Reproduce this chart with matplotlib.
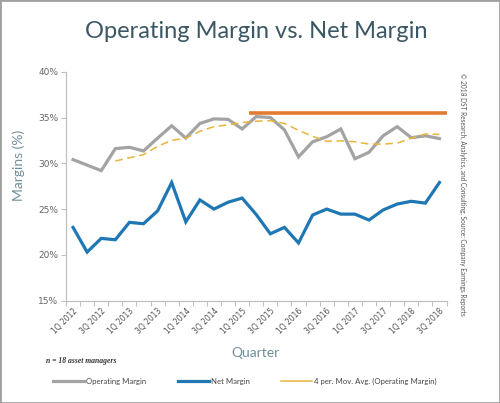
import numpy as np
import matplotlib
matplotlib.use("Agg")
import matplotlib.pyplot as plt
from matplotlib.lines import Line2D
from matplotlib.patches import Rectangle

# quarters 1Q 2012 .. 3Q 2018
quarters = [f"{q}Q {y}" for y in range(2012, 2019) for q in range(1, 5)][:27]

operating_margin = [30.4, 29.8, 29.2, 31.6, 31.75, 31.35, 32.75, 34.1, 32.75, 34.35,
                    34.85, 34.8, 33.75, 35.1, 35.0, 33.65, 30.7, 32.35, 32.9, 33.75,
                    30.5, 31.2, 33.0, 34.0, 32.8, 33.0, 32.7]
net_margin = [23.0, 20.3, 21.8, 21.65, 23.55, 23.4, 24.8, 27.9, 23.6, 26.0,
              25.0, 25.75, 26.2, 24.4, 22.3, 23.0, 21.3, 24.35, 25.0, 24.45,
              24.45, 23.8, 24.9, 25.55, 25.85, 25.65, 27.9]
# 4-period moving average of operating margin (starts at 4Q 2012)
mov_avg = [30.25, 30.6, 30.95, 31.85, 32.5, 32.75, 33.5, 34.0, 34.2, 34.45,
           34.6, 34.65, 34.35, 33.6, 32.95, 32.4, 32.45, 32.35, 32.1, 32.1,
           32.2, 32.75, 33.2, 33.15]
target_level = 35.5
target_start = 12.5   # boundary between 1Q 2015 and 2Q 2015

fig = plt.figure(figsize=(5.0, 4.03), dpi=100)
ax = fig.add_axes([0.132, 0.254, 0.761, 0.568])

x = np.arange(len(quarters))
ax.plot(x, operating_margin, color="#a3a3a3", lw=2.3, solid_joinstyle="miter", zorder=3)
ax.plot(x, net_margin, color="#1f77b4", lw=2.3, solid_joinstyle="miter", zorder=3)
ax.plot(x[3:], mov_avg, color="#e8b53c", lw=1.1, dashes=(5, 3), zorder=4)
ax.hlines(target_level, target_start, len(quarters) - 0.5, color="#e07b31", lw=2.6, zorder=2)

ax.set_xlim(-0.5, len(quarters) - 0.5)
ax.set_ylim(15, 40)
ax.set_yticks([15, 20, 25, 30, 35, 40])
ax.set_yticklabels([f"{v}%" for v in [15, 20, 25, 30, 35, 40]])
ax.set_xticks(x[::2])
ax.set_xticklabels(quarters[::2], rotation=45, ha="right", rotation_mode="anchor")
ax.set_xticks(np.arange(-0.5, len(quarters)), minor=True)
ax.tick_params(axis="x", which="major", length=0, labelsize=5.5, labelcolor="#555555", pad=4)
ax.tick_params(axis="x", which="minor", length=3.5, color="#c0c0c0", width=0.8, direction="out")
ax.tick_params(axis="y", length=3.5, color="#c0c0c0", width=0.8, labelsize=6.5,
               labelcolor="#666666", pad=2)
for side in ["top", "right"]:
    ax.spines[side].set_visible(False)
for side in ["left", "bottom"]:
    ax.spines[side].set_color("#c0c0c0")
    ax.spines[side].set_linewidth(0.9)

ax.set_ylabel("Margins (%)", fontsize=10, color="#6f8e9c", family="Lato")
ax.yaxis.set_label_coords(-0.108, 0.59)
ax.set_xlabel("Quarter", fontsize=10, color="#6f8e9c", family="Lato")
ax.xaxis.set_label_coords(0.497, -0.202)

fig.text(0.513, 0.922, "Operating Margin vs. Net Margin", ha="center", va="center",
         fontsize=17, color="#3a5764", family="Lato")
fig.text(0.093, 0.104, "n = 18 asset managers", ha="left", va="center", fontsize=5.5,
         style="italic", weight="bold", family="Liberation Serif", color="#333333")
fig.text(0.926, 0.82, "© 2018 DST Research, Analytics, and Consulting. Source: Company Earnings Reports",
         rotation=-90, ha="center", va="top", fontsize=4.7, color="#555555", family="Lato")

handles = [Line2D([], [], color="#a3a3a3", lw=2.3),
           Line2D([], [], color="#1f77b4", lw=2.3),
           Line2D([], [], color="#e8b53c", lw=1.1)]
labels = ["Operating Margin", "Net Margin", "4 per. Mov. Avg. (Operating Margin)"]
fig.legend(handles, labels, loc="center", bbox_to_anchor=(0.49, 0.054), ncol=3,
           frameon=False, prop={"family": "Lato", "size": 5.6}, handlelength=4.0,
           handletextpad=0.3, columnspacing=4.0, labelcolor="#444444")

fig.patches.append(Rectangle((0, 0), 1, 1, transform=fig.transFigure, fill=False,
                             edgecolor="#a0a0a0", lw=2))

fig.savefig("out.png", dpi=100)
